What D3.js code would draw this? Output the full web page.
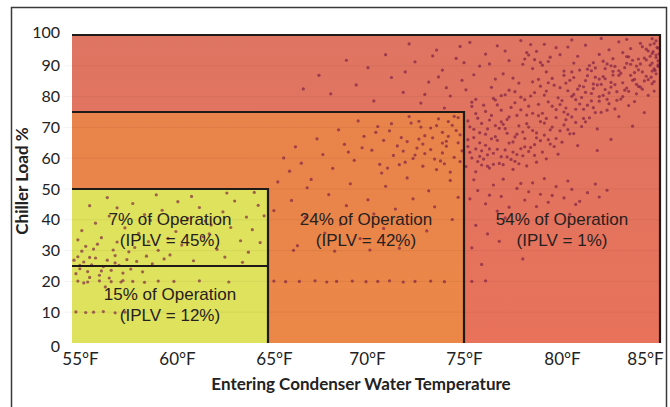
<!DOCTYPE html>
<html><head><meta charset="utf-8">
<script src="https://cdn.jsdelivr.net/npm/d3@7"></script>
<style>html,body{margin:0;padding:0;background:#fff;}svg{display:block;}</style>
</head><body>
<script>
// ---- DATA ----
const xTicks = [55, 60, 65, 70, 75, 80, 85];
const yTicks = [0, 10, 20, 30, 40, 50, 60, 70, 80, 90, 100];
const xTitle = "Entering Condenser Water Temperature";
const yTitle = "Chiller Load %";
// operating zones: [tempMin, tempMax, loadMin, loadMax]
const zoneRed = [55, 85, 0, 100];
const zoneOrange = [55, 75, 0, 75];
const zoneYellow = [55, 65, 0, 50];
const yellowSplit = 25;
const zoneText = [
  {temp: 60, load: 38.3, lines: ["7% of Operation", "(IPLV = 45%)"]},
  {temp: 60, load: 14.0, lines: ["15% of Operation", "(IPLV = 12%)"]},
  {temp: 70, load: 38.3, lines: ["24% of Operation", "(IPLV = 42%)"]},
  {temp: 80, load: 38.3, lines: ["54% of Operation", "(IPLV = 1%)"]}
];
// operating hours scatter [temp °F, load %]
const ptsYellowDense = [[55.2,22.5],[55.4,24.1],[55.6,26.3],[55.3,28.0],[55.8,23.2],[56.0,25.4],[56.2,27.6],[55.5,29.8],[56.4,22.0],[56.6,24.8],[56.8,26.9],[57.0,23.6],[57.2,28.4],[56.1,30.5],[55.9,21.3],[57.4,25.2],[57.6,22.7],[57.8,27.1],[58.0,24.0],[56.3,32.1],[55.7,31.4],[57.1,30.2],[58.3,26.5],[58.6,23.1],[55.1,26.9],[56.9,21.1],[57.9,29.6],[58.8,28.2],[59.1,25.7],[55.3,33.5],[56.5,34.2],[57.3,32.8],[58.2,31.0],[59.4,30.1],[59.7,27.3],[55.6,19.5],[56.7,18.2],[57.5,19.8],[55.9,27.8],[56.5,23.4],[57.2,26.0],[55.4,25.2]];
const ptsYellowSparse = [[55.5,36.5],[56.2,38.9],[56.9,41.2],[57.7,37.4],[58.4,35.6],[59.0,39.8],[59.6,43.1],[60.3,36.2],[60.9,40.5],[61.5,44.0],[62.1,38.3],[62.7,42.6],[63.3,46.1],[63.9,40.9],[64.5,44.7],[58.1,45.3],[56.8,47.2],[59.3,48.1],[61.1,47.6],[62.9,48.7],[64.2,36.8],[63.6,33.2],[62.4,30.4],[61.7,34.5],[60.6,31.8],[60.0,28.6],[61.2,26.7],[62.8,27.9],[64.0,29.5],[64.6,32.6],[63.1,37.5],[59.9,34.0],[58.7,41.7],[57.3,43.9],[55.9,44.6],[64.8,41.3],[64.3,48.9],[62.0,35.4],[60.4,45.9],[61.8,39.6],[63.7,26.2],[58.9,32.9]];
const ptsStreaks = [[55.3,20.1],[55.8,19.8],[56.4,20.2],[57.0,19.9],[57.6,20.3],[58.1,20.0],[58.7,19.7],[59.4,20.1],[60.2,20.0],[61.5,20.2],[63.0,19.8],[65.3,20.1],[65.9,19.9],[66.6,20.0],[67.4,20.2],[68.0,19.8],[68.5,20.0],[69.3,20.1],[70.0,19.9],[70.6,20.0],[71.2,20.2],[71.9,19.8],[72.5,20.0],[73.3,20.1],[74.0,19.9],[75.4,20.0],[76.1,20.2],[55.2,10.1],[55.7,9.9],[56.1,10.0],[56.6,10.2],[57.2,9.8],[57.7,10.0],[66.3,30.1],[68.4,29.8],[70.2,30.2]];
const ptsOrange = [[65.5,52.3],[66.1,55.8],[66.7,58.4],[67.2,53.1],[67.8,61.2],[68.3,56.7],[68.9,64.5],[69.4,59.3],[69.9,67.1],[70.3,62.6],[70.8,55.2],[71.2,68.9],[71.6,64.0],[72.0,58.7],[72.3,71.4],[72.7,66.2],[73.0,61.5],[73.3,69.8],[73.6,56.3],[73.9,64.9],[74.2,71.9],[74.5,60.3],[74.8,67.6],[71.4,60.9],[72.6,63.3],[73.8,59.1],[74.1,65.5],[74.6,69.0],[72.9,57.4],[71.8,66.7],[70.6,70.3],[69.6,72.1],[68.6,69.2],[67.5,66.3],[66.4,63.7],[65.8,60.1],[67.0,50.4],[68.1,48.2],[69.2,51.7],[70.1,46.5],[71.0,50.9],[72.1,53.6],[73.2,49.4],[74.3,52.8],[74.7,47.3],[73.5,44.2],[72.4,46.8],[71.5,43.5],[70.4,41.9],[69.0,44.6],[66.2,46.3],[65.3,43.0],[66.9,40.8],[68.7,38.5],[67.9,35.7],[70.9,37.2],[69.7,33.9],[66.5,31.6],[71.7,30.8],[73.1,36.4],[74.4,40.1],[73.7,72.8],[72.2,73.5],[70.7,58.0],[69.1,62.0],[74.9,62.4],[74.0,58.2],[73.4,66.6],[72.8,70.1],[71.1,56.8],[74.7,73.2],[73.9,68.4],[72.5,61.0],[74.3,55.5],[71.9,62.3],
[72.1,65.4],[72.4,59.9],[72.7,72.0],[73.0,67.3],[73.3,62.8],[73.6,70.6],[73.9,61.7],[74.2,67.1],[74.5,73.6],[74.8,58.9],[74.1,63.9],[74.4,70.7],[74.7,65.0],[73.5,59.7],[72.9,64.6],[71.3,71.2],[70.9,65.8],[71.7,57.9],[70.5,68.4],[69.8,63.4]];
const ptsUpper = [[66.8,82.5],[68.2,80.9],[69.5,83.8],[70.4,78.6],[71.3,86.2],[71.9,81.4],[72.5,91.3],[72.8,77.9],[73.2,84.7],[73.6,95.1],[73.9,88.6],[74.3,80.2],[74.6,92.4],[74.9,85.3],[75.3,97.6],[75.6,79.1],[75.8,89.9],[76.1,93.8],[76.4,83.0],[76.7,96.5],[77.0,87.4],[77.3,91.7],[77.6,81.6],[77.9,98.2],[78.2,94.3],[78.5,89.1],[78.8,85.6],[79.1,97.0],[79.4,92.8],[79.7,95.9],[80.1,88.3],[80.5,98.4],[80.8,93.1],[81.2,96.7],[81.6,91.0],[82.0,98.9],[82.4,95.2],[82.9,97.8],[83.3,98.6],[71.0,93.6],[70.1,89.4],[72.2,97.1],[69.0,91.8],[76.0,77.2],[74.0,76.3],[73.0,80.7],[75.1,82.2],[77.5,86.0],[78.0,90.5],[78.6,92.0],[79.0,90.2],[78.3,93.5],[78.9,91.1],[67.6,86.9],[76.9,80.3],[80.3,96.1],[81.9,93.7],[84.0,97.3],[84.6,98.8],
[72.0,88.0],[73.4,93.2],[74.1,82.9],[74.8,96.3],[75.5,87.1],[76.3,90.6],[77.1,94.8],[77.8,84.4],[78.4,96.9],[79.2,88.0],[79.9,93.6],[80.6,90.9],[76.6,85.7],[75.0,91.0],[73.7,86.4],[78.1,92.2],[78.7,94.7],[79.3,91.4]];
const ptsBand = [[75.1,57.3],[75.2,63.8],[75.3,70.2],[75.4,60.1],[75.5,66.7],[75.6,74.5],[75.7,58.9],[75.8,68.3],[75.9,62.4],[75.2,72.1],[75.6,55.6],[75.4,76.8],[75.8,65.0],[75.9,71.3],
[76.0,59.7],[76.1,64.2],[76.2,69.5],[76.3,56.8],[76.4,73.9],[76.5,61.6],[76.6,67.0],[76.7,77.3],[76.8,58.3],[76.9,71.8],[76.1,75.2],[76.3,63.0],[76.5,79.4],[76.7,65.8],[76.9,60.5],[76.2,57.4],[76.6,70.6],
[77.0,57.9],[77.1,62.7],[77.2,68.1],[77.3,73.4],[77.4,59.6],[77.5,65.3],[77.6,78.0],[77.7,61.2],[77.8,70.5],[77.9,75.7],[77.1,80.6],[77.3,64.9],[77.5,56.4],[77.7,67.8],[77.9,63.1],[77.2,72.6],[77.6,59.0],
[78.0,60.8],[78.1,66.4],[78.2,71.2],[78.3,76.9],[78.4,63.5],[78.5,69.0],[78.6,81.3],[78.7,58.7],[78.8,73.8],[78.9,65.7],[78.1,79.0],[78.3,62.2],[78.5,74.6],[78.7,68.2],[78.9,83.4],[78.2,57.5],[78.6,64.4],
[79.0,62.0],[79.1,67.5],[79.2,72.9],[79.3,78.3],[79.4,64.6],[79.5,70.1],[79.6,83.7],[79.7,75.8],[79.8,61.3],[79.9,68.9],[79.1,80.5],[79.3,66.0],[79.5,85.9],[79.7,73.2],[79.9,77.4],[79.2,59.8],
[80.0,65.2],[80.1,70.8],[80.2,76.3],[80.3,81.9],[80.4,67.9],[80.5,73.4],[80.6,86.2],[80.7,79.0],[80.8,64.1],[80.9,83.5],[80.1,75.0],[80.3,69.3],[80.5,88.0],[80.7,71.6],[80.9,77.6],[80.2,84.4],[80.6,80.7],
[81.0,70.3],[81.1,75.9],[81.2,81.4],[81.3,86.8],[81.4,73.1],[81.5,78.6],[81.6,84.1],[81.7,89.3],[81.8,69.5],[81.9,80.0],[81.1,83.2],[81.3,77.2],[81.5,88.4],[81.7,74.8],[81.9,85.7],[81.2,71.8],[81.6,82.6],
[82.0,74.9],[82.1,80.4],[82.2,85.8],[82.3,90.6],[82.4,77.7],[82.5,83.1],[82.6,88.2],[82.7,76.0],[82.8,81.6],[82.9,86.9],[82.1,91.5],[82.3,79.1],[82.5,84.6],[82.7,89.8],[82.9,73.5],[82.2,82.3],[82.6,87.0],
[83.0,79.2],[83.1,84.5],[83.2,89.4],[83.3,93.0],[83.4,81.7],[83.5,86.9],[83.6,91.8],[83.7,78.4],[83.8,84.0],[83.9,88.7],[83.1,94.3],[83.3,82.8],[83.5,90.5],[83.7,85.6],[83.9,92.2],[83.4,77.1],[83.8,80.9],
[84.0,83.1],[84.1,88.0],[84.2,92.5],[84.3,95.4],[84.4,85.5],[84.5,90.2],[84.6,94.0],[84.7,81.8],[84.8,87.4],[84.9,91.6],[84.1,96.2],[84.3,86.6],[84.5,93.1],[84.7,89.0],[84.9,95.7],[84.4,80.4],
[84.55,86.3],[84.6,90.9],[84.65,94.6],[84.7,97.2],[84.75,88.5],[84.8,92.7],[84.85,96.0],[84.9,89.8],[84.95,93.9],[84.6,84.2],[84.8,98.1],
[75.3,61.9],[75.5,69.4],[75.7,73.0],[75.9,57.8],[75.2,66.0],[75.4,78.2],[75.6,63.0],[75.8,60.6],
[76.1,67.8],[76.3,72.4],[76.5,58.0],[76.7,62.9],[76.9,75.6],[76.2,61.1],[76.4,66.3],[76.6,78.9],[76.8,69.7],
[77.0,71.0],[77.2,60.4],[77.4,76.5],[77.6,66.9],[77.8,58.2],[77.1,69.6],[77.3,82.1],[77.5,62.0],[77.7,73.9],[77.9,79.8],
[78.0,68.5],[78.2,74.0],[78.4,80.2],[78.6,60.9],[78.8,77.5],[78.1,63.7],[78.3,70.1],[78.5,84.8],[78.7,66.6],[78.9,71.9],
[79.0,74.6],[79.2,81.8],[79.4,69.2],[79.6,63.8],[79.8,79.6],[79.1,71.4],[79.3,84.5],[79.5,76.9],[79.7,66.4],[79.9,82.9],
[80.0,78.7],[80.2,72.5],[80.4,85.3],[80.6,68.0],[80.8,82.4],[80.1,86.9],[80.3,74.2],[80.5,80.1],[80.7,75.9],[80.9,88.6],
[81.0,79.7],[81.2,85.2],[81.4,90.1],[81.6,76.4],[81.8,83.8],[81.1,72.9],[81.3,88.9],[81.5,81.0],[81.7,86.3],[81.9,78.5],
[82.0,84.0],[82.2,89.1],[82.4,81.2],[82.6,92.3],[82.8,78.8],[82.1,86.5],[82.3,75.6],[82.5,90.0],[82.7,83.9],[82.9,88.4],
[83.0,87.6],[83.2,82.1],[83.4,92.9],[83.6,85.3],[83.8,89.9],[83.1,80.0],[83.3,90.8],[83.5,95.6],[83.7,87.8],[83.9,83.3],
[84.0,90.6],[84.2,85.1],[84.4,94.8],[84.6,88.3],[84.8,93.5],[84.1,82.4],[84.3,91.9],[84.5,96.8],[84.7,84.9],[84.9,90.3]];
const ptsLowerBand = [[75.3,46.8],[75.7,49.5],[76.1,45.2],[76.5,51.3],[76.9,47.6],[77.3,44.1],[77.7,50.2],[78.1,46.4],[78.5,52.0],[78.9,48.3],[79.3,45.7],[79.7,50.8],[80.1,47.1],[80.5,49.9],[80.9,46.0],[81.3,48.8],[81.7,51.6],[77.0,53.2],[78.3,49.1],[79.5,47.9],[80.3,52.6],[76.3,48.0],[77.9,51.8],[79.1,53.4],[80.7,45.0],[81.9,47.4],[82.3,49.6],[75.5,53.0],[76.7,42.8],[78.7,44.3],[75.6,38.2],[76.2,35.4],[75.4,30.9],[77.1,40.6],[78.0,27.3],[75.9,25.5],[80.4,41.8],[76.8,33.0],[82.5,66.1],[83.6,70.4],[84.2,74.8],[81.8,62.5]];

// ---- CHART ----
const W = 670, H = 407;
const svg = d3.select("body").append("svg").attr("width", W).attr("height", H);
svg.append("rect").attr("width", W).attr("height", H).attr("fill", "#fff");

const x = d3.scaleLinear().domain([55, 85]).range([72, 660]);
const y = d3.scaleLinear().domain([0, 100]).range([343, 35]);

const defs = svg.append("defs");
const gR = defs.append("linearGradient").attr("id", "gRed").attr("x1", 0).attr("y1", 0).attr("x2", 0).attr("y2", 1);
gR.append("stop").attr("offset", "0%").attr("stop-color", "#de7562");
gR.append("stop").attr("offset", "100%").attr("stop-color", "#e8725a");
const gO = defs.append("linearGradient").attr("id", "gOrange").attr("x1", 0).attr("y1", 0).attr("x2", 0).attr("y2", 1);
gO.append("stop").attr("offset", "0%").attr("stop-color", "#e8834b");
gO.append("stop").attr("offset", "100%").attr("stop-color", "#eb8848");

// outer frame
svg.append("rect").attr("x", 11.5).attr("y", 7.5).attr("width", 655).attr("height", 420)
  .attr("fill", "none").attr("stroke", "#3a3a3a").attr("stroke-width", 1.5);

function zoneRect(z, fill) {
  svg.append("rect").attr("x", x(z[0])).attr("y", y(z[3]))
    .attr("width", x(z[1]) - x(z[0])).attr("height", y(z[2]) - y(z[3])).attr("fill", fill);
}
zoneRect(zoneRed, "url(#gRed)");
zoneRect(zoneOrange, "url(#gOrange)");
zoneRect(zoneYellow, "#dfe25c");

// faint gridlines
svg.append("g").selectAll("line").data(yTicks.filter(d => d > 0 && d < 100)).join("line")
  .attr("x1", 64).attr("x2", x(85)).attr("y1", d => y(d)).attr("y2", d => y(d))
  .attr("stroke", "#000").attr("stroke-opacity", 0.05).attr("stroke-width", 1);

// scatter
const allPts = [].concat(ptsYellowDense, ptsYellowSparse, ptsStreaks, ptsOrange, ptsUpper, ptsBand, ptsLowerBand);
svg.append("g").selectAll("circle").data(allPts).join("circle")
  .attr("cx", d => x(d[0])).attr("cy", d => y(d[1])).attr("r", 1.6)
  .attr("fill", "#7a1a42").attr("fill-opacity", 0.65);

// zone borders (top + right edges)
const line = d3.line();
function zoneEdge(z) {
  svg.append("path").attr("d", line([[x(z[0]), y(z[3])], [x(z[1]), y(z[3])], [x(z[1]), y(z[2])]]))
    .attr("fill", "none").attr("stroke", "#1e1a18").attr("stroke-width", 2.2);
}
zoneEdge(zoneRed); zoneEdge(zoneOrange); zoneEdge(zoneYellow);
svg.append("line").attr("x1", x(zoneYellow[0])).attr("x2", x(zoneYellow[1]))
  .attr("y1", y(yellowSplit)).attr("y2", y(yellowSplit))
  .attr("stroke", "#1e1a18").attr("stroke-width", 2.2);

// zone labels
zoneText.forEach(z => {
  const t = svg.append("text").attr("x", x(z.temp)).attr("y", y(z.load))
    .attr("text-anchor", "middle").attr("font-family", "'Liberation Sans', Arial, sans-serif")
    .attr("font-size", 17).attr("fill", "#262020");
  z.lines.forEach((s, i) => t.append("tspan").attr("x", x(z.temp)).attr("dy", i === 0 ? 0 : 21).text(s));
});

// axes
const xLabelShift = {55: 8, 60: 7, 65: 6, 70: 1, 75: 0, 80: 0, 85: -15};
const xAxis = svg.append("g").attr("transform", `translate(0,${y(0)})`)
  .call(d3.axisBottom(x).tickValues(xTicks).tickSize(0).tickPadding(10).tickFormat(d => d + "°F"));
xAxis.select(".domain").remove();
xAxis.selectAll("text").attr("font-family", "Lato, sans-serif").attr("font-size", 17).attr("fill", "#222")
  .attr("dx", d => xLabelShift[d]);

const yAxis = svg.append("g").attr("transform", `translate(60,0)`)
  .call(d3.axisLeft(y).tickValues(yTicks).tickSize(0).tickPadding(0));
yAxis.select(".domain").remove();
yAxis.selectAll("text").attr("font-family", "Lato, sans-serif").attr("font-size", 16).attr("fill", "#222")
  .attr("dy", d => d === 0 ? "0.55em" : (d === 100 ? "0.15em" : "0.32em"));

svg.append("text").attr("x", 361).attr("y", 390).attr("text-anchor", "middle")
  .attr("font-family", "Lato, sans-serif").attr("font-weight", "bold").attr("font-size", 17)
  .attr("fill", "#222").text(xTitle);
svg.append("text").attr("transform", "translate(28,181) rotate(-90)").attr("text-anchor", "middle")
  .attr("font-family", "Lato, sans-serif").attr("font-weight", "bold").attr("font-size", 17)
  .attr("fill", "#222").text(yTitle);
</script>
</body></html>
